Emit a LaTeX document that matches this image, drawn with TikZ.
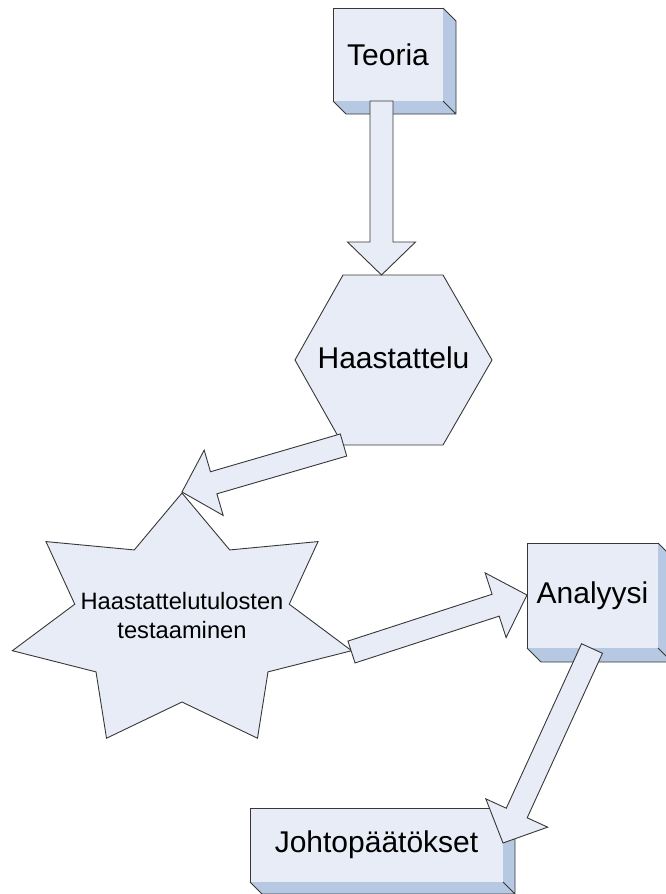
\documentclass[tikz,border=0pt]{standalone}
\usepackage{fontspec}
\setmainfont{Liberation Sans}
\usetikzlibrary{calc,shapes.geometric}
\definecolor{facecol}{RGB}{232,236,246}
\definecolor{sidecol}{RGB}{182,200,226}
\definecolor{linecol}{RGB}{55,55,55}
\tikzset{
  shapestyle/.style={draw=linecol, fill=facecol, line width=0.9pt, line join=miter},
  boxnode/.style={shapestyle, rectangle, inner sep=0pt, outer sep=0pt, font=\fontsize{30}{36}\selectfont},
  labelnode/.style={inner sep=0pt, font=\fontsize{30}{36}\selectfont},
  blockarr/.style={draw=linecol, fill=facecol, line width=0.9pt, line join=miter},
  edgeline/.style={draw=linecol, line width=0.9pt, line join=miter},
}
% 3D extrusion of a box node: #1 node name, #2 depth
\newcommand\extrude[2]{%
  \fill[sidecol] (#1.north east) -- ++(#2,#2) -- ($(#1.south east)+(#2,#2)$) -- ($(#1.south west)+(#2,#2)$) -- (#1.south west) -- (#1.south east) -- cycle;
  \draw[edgeline] (#1.north east) -- ++(#2,#2) -- ($(#1.south east)+(#2,#2)$) -- ($(#1.south west)+(#2,#2)$) -- (#1.south west)
    (#1.south east) -- ++(#2,#2);
}
% block arrow from coordinate #1 to coordinate #2
\newcommand\blockarrow[2]{%
  \path ($(#2)!33pt!(#1)$) coordinate (hb);
  \draw[blockarr] ($(#1)!11.5pt!90:(#2)$) -- ($(hb)!11.5pt!-90:(#1)$) -- ($(hb)!34pt!-90:(#1)$) -- (#2)
    -- ($(hb)!34pt!90:(#1)$) -- ($(hb)!11.5pt!90:(#1)$) -- ($(#1)!11.5pt!-90:(#2)$) -- cycle;
}
\begin{document}
\begin{tikzpicture}[x=1pt,y=-1pt]
\useasboundingbox (0,0) rectangle (666,894);
\clip (0,0) rectangle (666,894);

% Teoria
\node[boxnode, minimum width=110pt, minimum height=93pt] (teoria) at (388,54.5) {Teoria};
\extrude{teoria}{13}

% Haastattelu hexagon
\draw[shapestyle] (343,275) -- (443,275) -- (492,360) -- (443,445) -- (343,445) -- (295,360) -- cycle;
\node[labelnode] (haast) at (393.5,358) {Haastattelu};

% Star
\begin{scope}[shift={(182,622)}]
  \draw[shapestyle] (-90:174 and 129)
    \foreach \k in {1,...,6} { -- ({-90+(\k-0.5)*360/7}:110 and 80) -- ({-90+\k*360/7}:174 and 129) }
    -- ({-90+6.5*360/7}:110 and 80) -- cycle;
\end{scope}
\node[align=center, font=\fontsize{23.7}{29}\selectfont, inner sep=0pt] (test) at (182,616) {Haastattelutulosten\\testaaminen};

% Analyysi
\node[boxnode, minimum width=131pt, minimum height=105pt] (analyysi) at (592.5,595.5) {Analyysi};
\extrude{analyysi}{14}

% Johtopaatokset
\node[boxnode, minimum width=253pt, minimum height=74pt] (johto) at (376.5,845) {Johtopäätökset};
\extrude{johto}{12}

% arrow end points
\coordinate (a1s) at (381.5,101);
\coordinate (a1t) at (381.5,275);
\coordinate (a2s) at (343.5,445);
\coordinate (a2t) at (182,492);
\coordinate (a3s) at (351.5,652);
\coordinate (a3t) at (527,595);
\coordinate (a4s) at (592,648.5);
\coordinate (a4t) at (503,843);

\blockarrow{a1s}{a1t}
\blockarrow{a2s}{a2t}
\blockarrow{a3s}{a3t}
\blockarrow{a4s}{a4t}
\end{tikzpicture}
\end{document}
